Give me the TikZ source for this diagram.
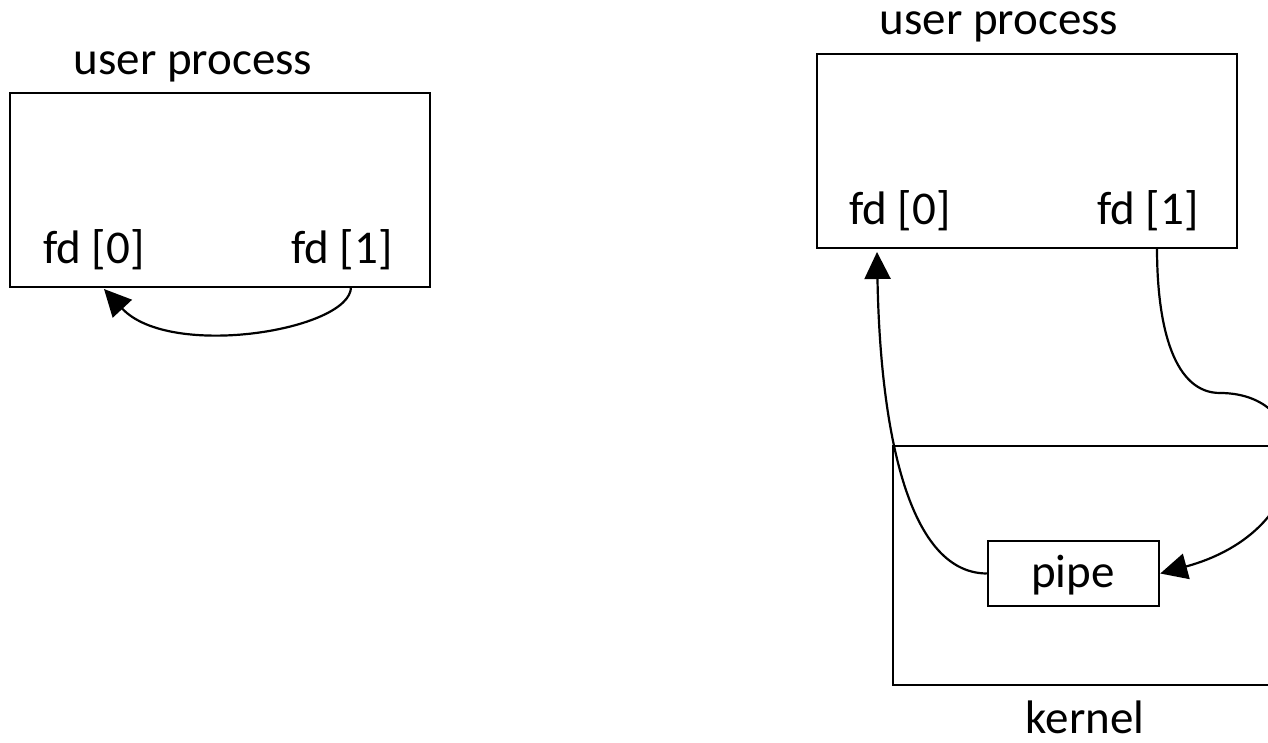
\documentclass[tikz,border=0pt]{standalone}
\usepackage{fontspec}
\setmainfont{Carlito}
\usetikzlibrary{arrows.meta}
\begin{document}
\begin{tikzpicture}[x=1pt,y=-1pt,
  box/.style={draw,line width=2.5pt,inner sep=0pt},
  lbl/.style={anchor=base,inner sep=0pt,font=\fontsize{47}{56}\selectfont},
  conn/.style={line width=2.2pt},
  tip/.style={-{Triangle[length=27pt,width=26pt]}}]
\useasboundingbox (0,0) rectangle (1268,743);
% left
\node[box,minimum width=420pt,minimum height=194pt] (lbox) at (220,190) {};
\node[lbl] (lup) at (193,75) {user process};
\node[lbl] (lfd0) at (94,263) {fd [0]};
\node[lbl] (lfd1) at (342,263) {fd [1]};
\coordinate (lout) at (351,287);
\coordinate (lin) at (104,289);
\draw[conn,tip] (lout) .. controls (351,330) and (170,360) .. (lin);
% right
\node[box,minimum width=420pt,minimum height=194pt] (rbox) at (1027,151) {};
\node[lbl] (rup) at (999,35) {user process};
\node[lbl] (rfd0) at (900,225) {fd [0]};
\node[lbl] (rfd1) at (1148,225) {fd [1]};
\draw[line width=2.5pt] (1290,446) -| (893,685) -- (1290,685);
\node[box,minimum width=171pt,minimum height=65pt] (pipe) at (1073.5,573.5) {};
\node[lbl] (ptxt) at (1073,587) {pipe};
\node[lbl] (kern) at (1085,733) {kernel};
\coordinate (rout) at (1157,248);
\coordinate (rbend) at (1220,393);
\coordinate (rin) at (877,252);
\draw[conn] (rout) .. controls (1157,330) and (1175,393) .. (rbend);
\draw[conn,tip] (rbend) .. controls (1320,393) and (1320,530) .. (pipe.east);
\draw[conn,tip] (pipe.west) .. controls (905,573) and (880,420) .. (rin);
\end{tikzpicture}
\end{document}
